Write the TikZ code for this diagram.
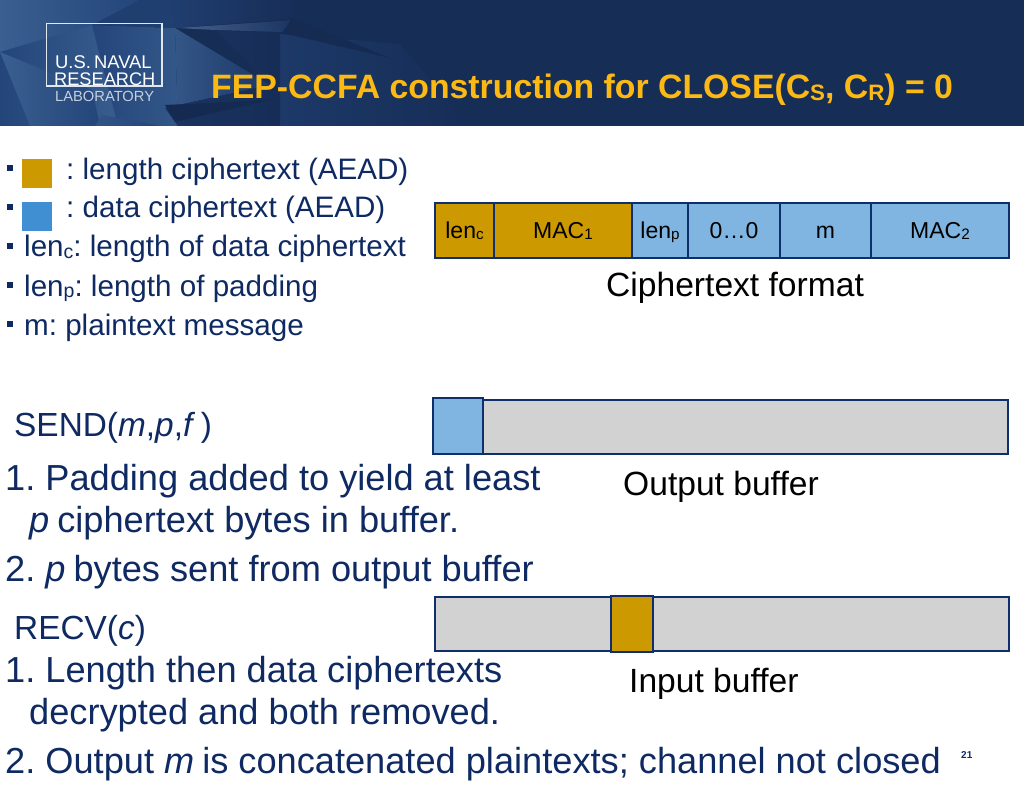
\documentclass[tikz,border=0pt]{standalone}
\usepackage{fontspec}
\setmainfont{Liberation Sans}
\newcommand{\sz}[1]{\fontsize{#1}{#1}\selectfont\frenchspacing}
\newcommand{\subs}[1]{\raisebox{-0.1ex}{\scalebox{0.66}{#1}}}
\definecolor{hdr}{HTML}{162D56}
\definecolor{hdrl}{HTML}{3A5F90}
\definecolor{hdrm}{HTML}{24457A}
\definecolor{gold}{HTML}{FDB913}
\definecolor{navy}{HTML}{0F2A62}
\definecolor{lenc}{HTML}{CC9900}
\definecolor{datab}{HTML}{7FB5E0}
\definecolor{sqb}{HTML}{3F8FD2}
\definecolor{buf}{HTML}{D2D2D2}
\definecolor{edge}{HTML}{0E2F6B}
\tikzset{
  cell/.style={draw=edge,line width=1.6pt,rectangle,inner sep=0pt,outer sep=0pt,anchor=center,text=black},
  body/.style={anchor=base west,inner sep=0pt,text=navy,font=\sz{36.2}},
  small/.style={anchor=base west,inner sep=0pt,text=navy,font=\sz{29.6}},
  head/.style={anchor=base west,inner sep=0pt,text=navy,font=\sz{33.4}},
  caption/.style={anchor=base west,inner sep=0pt,text=black,font=\sz{33.6}},
  celltext/.style={font=\sz{23},text height=16pt,text depth=0pt},
  poly/.style={draw=none}
}
\newcommand{\bul}[2]{\fill[navy] (#1,#2) rectangle ++(5.5,6);}
\newcommand{\cellbox}[6]{\node[cell,fill=#2,minimum width=#4-#3,minimum height=#6-#5,#1] at ({(#3+#4)/2},{(#5+#6)/2})}
\begin{document}
\begin{tikzpicture}[x=1pt,y=-1pt]
\useasboundingbox (0,0) rectangle (1024,791);
\fill[white] (0,0) rectangle (1024,791);
% header
\fill[hdr] (0,0) rectangle (1024,126);
\begin{scope}
\clip (0,0) rectangle (1024,126);
\shade[left color=hdrl,right color=hdrm,poly] (0,0) -- (140,0) -- (46,50) -- (0,52) -- cycle;
\shade[left color=hdrm,right color=hdrl,poly] (0,52) -- (92,25) -- (130,126) -- (0,126) -- cycle;
\shade[left color=hdrl,right color=hdrm,poly] (0,52) -- (92,90) -- (100,126) -- (30,126) -- cycle;
\shade[left color=hdrm,right color=hdrl!70!hdrm,poly] (92,25) -- (175,28) -- (178,126) -- (118,126) -- cycle;
\fill[hdrm!75!hdr] (140,0) -- (172,0) -- (175,28) -- (92,25) -- cycle;
\shade[left color=hdrl!80!hdrm,right color=hdr!60!hdrm,poly] (175,28) -- (270,85) -- (165,108) -- (178,126) -- cycle;
\shade[left color=hdrm!70!hdr,right color=hdr,poly] (172,0) -- (300,0) -- (300,18) -- (175,28) -- cycle;
\shade[left color=hdrm!85!white,right color=hdrm!30!hdr,poly] (178,28) -- (295,20) -- (282,32) -- (215,30) -- cycle;
\shade[left color=hdrm!50!hdr,right color=hdr,poly] (280,34) -- (400,44) -- (470,126) -- (280,126) -- cycle;
\shade[left color=hdr!70!hdrm,right color=hdr,poly] (215,30) -- (280,34) -- (280,126) -- (178,126) -- (165,108) -- (270,85) -- cycle;
\fill[hdr!95!black] (292,18) -- (390,58) -- (282,33) -- cycle;
\fill[hdr!94!black] (165,105) -- (270,100) -- (175,122) -- cycle;
\shade[left color=hdrl!60!hdrm,right color=hdrm,poly] (95,126) -- (102,115) -- (160,126) -- cycle;
\end{scope}
% logo
\draw[white!85!hdrl,line width=1.1pt] (46.5,23.5) rectangle (162,86);
\node[anchor=base west,inner sep=0pt,text=white,font=\sz{18.4}] (lg1) at (55,69) {U.S.\,NAVAL};
\node[anchor=base west,inner sep=0pt,text=white,font=\sz{18.2}] (lg2) at (54,86) {RESEARCH};
\node[anchor=base west,inner sep=0pt,text=white!70!hdrl,font=\sz{14.7}] (lg3) at (55,102) {LABORATORY};
% title
\node[anchor=base west,inner sep=0pt,text=gold,font=\sz{33.8}\bfseries] (title) at (211,99) {FEP-CCFA construction for CLOSE(C\subs{S}, C\subs{R}) = 0};
% legend
\bul{7}{165}\bul{7}{204}\bul{7}{243}\bul{7}{282}\bul{7}{321}
\fill[lenc] (22,159) rectangle (52,188);
\fill[sqb] (22,202) rectangle (52,231);
\node[small] (l1) at (66,180) {: length ciphertext (AEAD)};
\node[small] (l2) at (66,218) {: data ciphertext (AEAD)};
\node[small] (l3) at (24,257) {len\subs{c}: length of data ciphertext};
\node[small] (l4) at (24,296) {len\subs{p}: length of padding};
\node[small] (l5) at (24,335) {m: plaintext message};
% ciphertext format
\cellbox{celltext}{lenc}{435}{494}{203}{258} (c1) {len\subs{c}};
\cellbox{celltext}{lenc}{494}{632}{203}{258} (c2) {MAC\subs{1}};
\cellbox{celltext}{datab}{632}{688}{203}{258} (c3) {len\subs{p}};
\cellbox{celltext}{datab}{688}{780}{203}{258} (c4) {0…0};
\cellbox{celltext}{datab}{780}{871}{203}{258} (c5) {m};
\cellbox{celltext}{datab}{871}{1009}{203}{258} (c6) {MAC\subs{2}};
\node[caption] (cf) at (606,297) {Ciphertext format};
% send
\node[head] (s0) at (14,436) {SEND(\textit{m},\textit{p},\textit{f}\,)};
\node[body] (s1) at (5,490) {1. Padding added to yield at least};
\node[body] (s2) at (29,532) {\textit{p}\hspace{0.22em}ciphertext bytes in buffer.};
\node[body] (s3) at (5,581) {2. \textit{p}\hspace{0.22em}bytes sent from output buffer};
\cellbox{}{buf}{433}{1008}{400}{454} (ob) {};
\cellbox{}{datab}{433}{483}{398}{454} (ob1) {};
\node[caption] (ot) at (623,495) {Output buffer};
% recv
\node[head] (r0) at (14,639) {RECV(\textit{c})};
\node[body] (r1) at (5,682) {1. Length then data ciphertexts};
\node[body] (r2) at (29,724) {decrypted and both removed.};
\node[body] (r3) at (5,773) {2. Output \textit{m}\hspace{0.22em}is concatenated plaintexts; channel not closed};
\cellbox{}{buf}{435}{1009}{597}{651} (ib) {};
\cellbox{}{lenc}{611}{653}{596}{652} (ib1) {};
\node[caption] (it) at (629,692) {Input buffer};
\node[anchor=base west,inner sep=0pt,text=navy,font=\sz{10}\bfseries] (pg) at (961,758) {21};
\end{tikzpicture}
\end{document}
